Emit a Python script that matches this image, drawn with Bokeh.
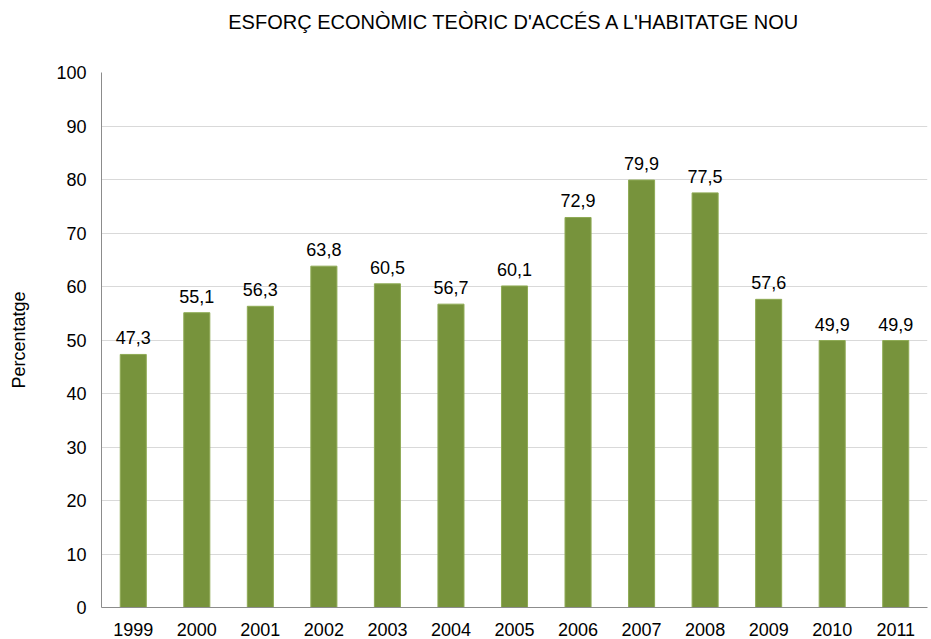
from bokeh.plotting import figure
from bokeh.models import ColumnDataSource, Title, SingleIntervalTicker, LabelSet
from bokeh.core.properties import value
from bokeh.embed import file_html
from bokeh.resources import INLINE

years = ["1999", "2000", "2001", "2002", "2003", "2004", "2005", "2006", "2007", "2008", "2009", "2010", "2011"]
values = [47.3, 55.1, 56.3, 63.8, 60.5, 56.7, 60.1, 72.9, 79.9, 77.5, 57.6, 49.9, 49.9]
labels = [f"{v:.1f}".replace(".", ",") for v in values]

FONT = "Liberation Sans"
src = ColumnDataSource(dict(x=years, top=values, lab=labels))

p = figure(x_range=years, y_range=(0, 100), width=931, height=639,
           output_backend="svg", toolbar_location=None,
           min_border_left=101, min_border_right=4, min_border_bottom=32)
p.title = None
# spacer between the title and the plot area
p.add_layout(Title(text=" ", text_font=FONT, text_font_size="10px", standoff=19), "above")
p.add_layout(Title(text="ESFORÇ ECONÒMIC TEÒRIC D'ACCÉS A L'HABITATGE NOU", align="center",
                   text_font=FONT, text_font_size="20px", text_font_style="normal",
                   text_color="#000000", standoff=16), "above")

p.vbar(x="x", top="top", width=0.41, source=src, fill_color="#77933C", line_color="#8fab55", line_width=1)

p.add_layout(LabelSet(x="x", y="top", text="lab", source=src, text_align="center",
                      text_baseline="bottom", y_offset=10, text_font=value(FONT),
                      text_font_size="18px", text_color="#000000"))

p.outline_line_color = None
p.xgrid.grid_line_color = None
p.ygrid.grid_line_color = "#d9d9d9"
p.ygrid.grid_line_width = 1
p.yaxis.ticker = SingleIntervalTicker(interval=10)

for ax in (p.xaxis, p.yaxis):
    ax.axis_line_color = "#8c8c8c"
    ax.major_tick_line_color = None
    ax.minor_tick_line_color = None
    ax.major_label_text_font = FONT
    ax.major_label_text_font_size = "18px"
    ax.major_label_text_color = "#000000"

p.xaxis.major_label_standoff = 9
p.yaxis.major_label_standoff = 9
p.yaxis.axis_label = "Percentatge"
p.yaxis.axis_label_text_font = FONT
p.yaxis.axis_label_text_font_size = "18px"
p.yaxis.axis_label_text_font_style = "normal"
p.yaxis.axis_label_text_color = "#000000"
p.yaxis.axis_label_standoff = 24

open("out.html", "w").write(file_html(p, INLINE))
